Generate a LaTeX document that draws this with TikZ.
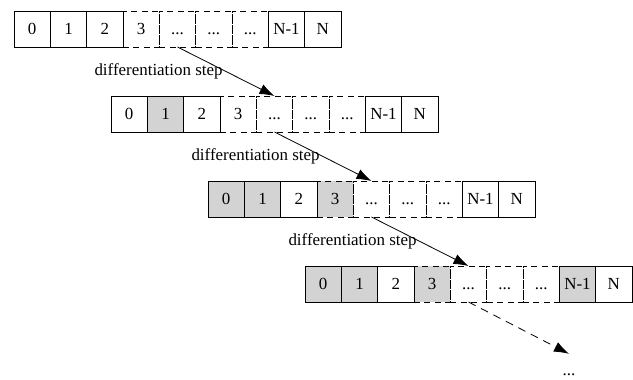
\documentclass[tikz,border=0pt]{standalone}
\usepackage{fontspec}
\setmainfont{Liberation Serif}
\usetikzlibrary{arrows.meta,backgrounds}
\definecolor{cellgray}{RGB}{211,211,211}
\newcommand\celldots{...}
\begin{document}
\begin{tikzpicture}[x=1bp,y=-1bp,
  cell/.style={minimum width=36.33bp, minimum height=36bp, inner sep=0pt, outer sep=0pt, text height=11.5bp, text depth=0bp, anchor=north west, font=\fontsize{17}{20}\selectfont, line width=0.8bp},
  solidcell/.style={cell, draw},
  dashcell/.style={cell, draw, dash pattern=on 6bp off 4.5bp},
  steparrow/.style={-{Latex[length=15bp,width=10.5bp]}, line width=0.8bp},
  lbl/.style={font=\fontsize{17}{20}\selectfont, anchor=east, inner sep=3bp}
]
\useasboundingbox (0,0) rectangle (633,379);
\foreach \r/\ox/\oy in {1/14/11, 2/111/96, 3/208/181, 4/305/266}{
  \foreach \i/\t in {3/3,4/\celldots,5/\celldots,6/\celldots}
    \node[dashcell] (r\r c\i) at ({\ox+\i*36.33},\oy) {\t};
  \foreach \i/\t in {0/0,1/1,2/2,7/N-1,8/N}
    \node[solidcell] (r\r c\i) at ({\ox+\i*36.33},\oy) {\t};
}
\begin{scope}[on background layer]
  \foreach \n in {r2c1, r3c0, r3c1, r3c3, r4c0, r4c1, r4c3, r4c7}
    \fill[cellgray] (\n.north west) rectangle (\n.south east);
\end{scope}
\draw[steparrow] (r1c4.south) -- node[lbl, pos=0.5]{differentiation step} (r2c4.north);
\draw[steparrow] (r2c4.south) -- node[lbl, pos=0.5]{differentiation step} (r3c4.north);
\draw[steparrow] (r3c4.south) -- node[lbl, pos=0.5]{differentiation step} (r4c4.north);
\node[font=\fontsize{17}{20}\selectfont, inner sep=0pt, text height=21bp, anchor=base] (dots) at (569,375) {\celldots};
\draw[steparrow, dash pattern=on 8bp off 6bp] (r4c4.south) -- (dots.north);
\end{tikzpicture}
\end{document}
